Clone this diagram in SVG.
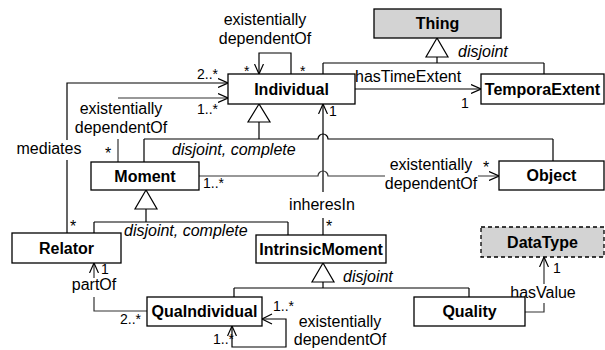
<svg xmlns="http://www.w3.org/2000/svg" width="605" height="350" viewBox="0 0 605 350">
<defs>
<style>
.box{fill:#fff;stroke:#000;stroke-width:1.3}
.gray{fill:#d3d3d3}
.dash{stroke-dasharray:4 3}
.nm{font-family:"Liberation Sans",Arial,sans-serif;font-size:16px;font-weight:bold;text-anchor:middle;fill:#000}
.lb{font-family:"Liberation Sans",Arial,sans-serif;font-size:16px;fill:#000}
.it{font-family:"Liberation Sans",Arial,sans-serif;font-size:16px;font-style:italic;fill:#000}
.m{font-family:"Liberation Sans",Arial,sans-serif;font-size:14px;fill:#000}
.s{font-family:"Liberation Sans",Arial,sans-serif;font-size:16px;fill:#000}
.c{text-anchor:middle}
.ln{fill:none;stroke:#000;stroke-width:1.2}
.as{fill:none;stroke:#333;stroke-width:1.2}
.tri{fill:#fff;stroke:#000;stroke-width:1.2}
</style>
<marker id="open" viewBox="0 0 10 10" refX="10" refY="5" markerWidth="10" markerHeight="10" markerUnits="userSpaceOnUse" orient="auto">
<path d="M0,0.5 L10,5 L0,9.5" fill="none" stroke="#000" stroke-width="1.2"/>
</marker>
</defs>

<g id="connectors">
<!-- generalization Thing -->
<path class="ln" d="M437,57 V63 M323,63 H544 M323,63 V74 M544,63 V74"/>
<polygon class="tri" points="437,38 426,57 448,57"/>
<text class="it" x="458" y="57">disjoint</text>
<!-- generalization Individual -->
<path class="ln" d="M259,122 V139 M144,139 H318 A5,5 0 0 1 328,139 H553 M144,139 V162 M553,139 V161"/>
<polygon class="tri" points="259,104 248,122 270,122"/>
<text class="it" x="172" y="155">disjoint, complete</text>
<!-- generalization Moment -->
<path class="ln" d="M146,209 V222 M94,222 H288 M94,222 V233 M288,222 V235"/>
<polygon class="tri" points="146,190 135,209 157,209"/>
<text class="it" x="124" y="236">disjoint, complete</text>
<!-- generalization IntrinsicMoment -->
<path class="ln" d="M323,282 V288 M234,288 H469 M234,288 V297 M469,288 V297"/>
<polygon class="tri" points="323,263 312,282 334,282"/>
<text class="it" x="343" y="282">disjoint</text>

<!-- Individual self loop -->
<path class="ln" d="M291,74 V53 H259 V74" marker-end="url(#open)"/>
<text class="lb c" x="265" y="25">existentially</text>
<text class="lb c" x="265" y="44">dependentOf</text>
<text class="m" x="244" y="76">*</text>
<text class="m" x="300" y="76">*</text>

<!-- hasTimeExtent -->
<path class="ln" d="M355,89 H481" marker-end="url(#open)"/>
<text class="lb" x="355" y="82">hasTimeExtent</text>
<text class="m" x="461" y="108">1</text>

<!-- mediates -->
<path class="ln" d="M67,233 V160 M67,140 V83 H228" marker-end="url(#open)"/>
<text class="lb c" x="49" y="154">mediates</text>
<text class="m" x="197" y="79">2..*</text>
<text class="s" x="70" y="232">*</text>

<!-- Moment existentially dependentOf Individual -->
<path class="as" d="M118,162 V139 M118,98 H228" marker-end="url(#open)"/>
<text class="lb c" x="121" y="114">existentially</text>
<text class="lb c" x="121" y="133">dependentOf</text>
<text class="m" x="197" y="114">1..*</text>
<text class="s" x="105" y="159">*</text>

<!-- inheresIn -->
<path class="ln" d="M323,235 V218 M323,192 V104" marker-end="url(#open)"/>
<text class="lb c" x="322" y="210">inheresIn</text>
<text class="m" x="329" y="116">1</text>
<text class="s" x="326" y="232">*</text>

<!-- Moment existentially dependentOf Object -->
<path class="as" d="M199,176 H318 A5,5 0 0 1 328,176 H385 M478,176 H499" marker-end="url(#open)"/>
<text class="lb c" x="431" y="170">existentially</text>
<text class="lb c" x="431" y="189">dependentOf</text>
<text class="m" x="203" y="188">1..*</text>
<text class="s" x="483" y="173">*</text>

<!-- partOf -->
<path class="as" d="M147,311 H94 V297 M94,278 V263" marker-end="url(#open)"/>
<text class="lb c" x="94" y="290">partOf</text>
<text class="m" x="101" y="274">1</text>
<text class="m" x="120" y="324">2..*</text>

<!-- QuaIndividual self loop -->
<path class="ln" d="M262,319 H286 V347 H232 V326" marker-end="url(#open)"/>
<path class="ln" d="M272,314 L262,319 L272,324"/>
<text class="lb c" x="340" y="327">existentially</text>
<text class="lb c" x="340" y="345">dependentOf</text>
<text class="m" x="273" y="311">1..*</text>
<text class="m" x="213" y="344">1..*</text>

<!-- hasValue -->
<path class="as" d="M525,312 H544 V303 M544,284 V257" marker-end="url(#open)"/>
<text class="lb c" x="543" y="298">hasValue</text>
<text class="m" x="553" y="273">1</text>
</g>

<g id="Thing">
<rect class="box gray" x="374" y="9" width="127" height="29"/>
<text class="nm" x="437.5" y="29">Thing</text>
</g>
<g id="Individual">
<rect class="box" x="228" y="74" width="127" height="30"/>
<text class="nm" x="291.5" y="95">Individual</text>
</g>
<g id="TemporaExtent">
<rect class="box" x="481" y="74" width="123" height="30"/>
<text class="nm" x="542.5" y="95">TemporaExtent</text>
</g>
<g id="Moment">
<rect class="box" x="91" y="162" width="108" height="28"/>
<text class="nm" x="145" y="182">Moment</text>
</g>
<g id="Object">
<rect class="box" x="499" y="161" width="105" height="29"/>
<text class="nm" x="551.5" y="181">Object</text>
</g>
<g id="Relator">
<rect class="box" x="12" y="233" width="109" height="30"/>
<text class="nm" x="66.5" y="254">Relator</text>
</g>
<g id="IntrinsicMoment">
<rect class="box" x="256" y="235" width="130" height="28"/>
<text class="nm" x="321" y="255">IntrinsicMoment</text>
</g>
<g id="DataType">
<rect class="box gray dash" x="481" y="227" width="123" height="30"/>
<text class="nm" x="542.5" y="248">DataType</text>
</g>
<g id="QuaIndividual">
<rect class="box" x="147" y="297" width="115" height="29"/>
<text class="nm" x="204.5" y="317">QuaIndividual</text>
</g>
<g id="Quality">
<rect class="box" x="414" y="297" width="111" height="29"/>
<text class="nm" x="469.5" y="317">Quality</text>
</g>
</svg>
